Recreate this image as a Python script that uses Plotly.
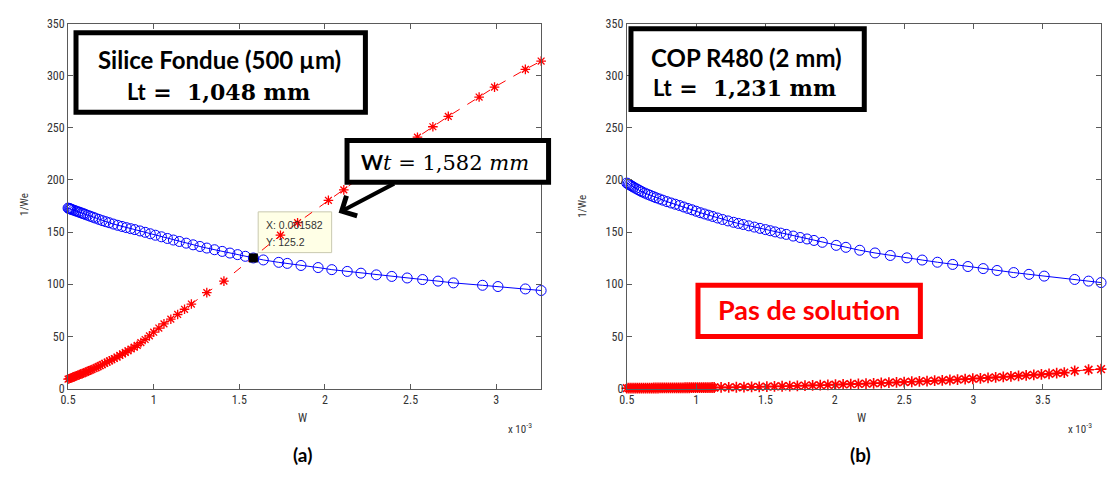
import plotly.graph_objects as go

FIG_W, FIG_H = 1108, 480

# ---------------- data (W in units of 1e-3) ----------------
a_blue_w = [0.500, 0.505, 0.510, 0.515, 0.520, 0.530, 0.540, 0.550, 0.560, 0.570,
            0.580, 0.590, 0.600, 0.615, 0.630, 0.645, 0.660, 0.680, 0.700, 0.720,
            0.740, 0.765, 0.790, 0.815, 0.840, 0.865, 0.890, 0.920, 0.950, 0.980,
            1.010, 1.045, 1.080, 1.115, 1.150, 1.190, 1.230, 1.270, 1.310, 1.355,
            1.400, 1.445, 1.490, 1.535, 1.582, 1.640, 1.730, 1.780, 1.860, 1.960,
            2.040, 2.130, 2.210, 2.300, 2.390, 2.480, 2.570, 2.660, 2.750, 2.920,
            3.010, 3.170, 3.262]
a_blue_inv_we = [173.0, 172.7, 172.4, 172.1, 171.8, 171.2, 170.6, 170.0, 169.4, 168.8,
                 168.2, 167.6, 167.0, 166.1, 165.2, 164.3, 163.4, 162.2, 161.0, 160.0,
                 159.0, 157.7, 156.5, 155.4, 154.3, 153.3, 152.4, 151.1, 149.8, 148.4,
                 147.0, 145.5, 143.9, 142.4, 141.0, 139.4, 137.8, 136.2, 134.7, 133.1,
                 131.5, 129.9, 128.4, 126.8, 125.2, 123.3, 121.0, 120.0, 118.0, 116.0,
                 114.0, 112.3, 110.6, 109.0, 107.5, 106.0, 104.5, 103.0, 101.3, 99.0,
                 97.8, 95.5, 94.0]

a_red_w = [0.500, 0.507, 0.514, 0.521, 0.528, 0.535, 0.542, 0.550, 0.558, 0.566,
           0.574, 0.582, 0.590, 0.600, 0.610, 0.620, 0.630, 0.640, 0.652, 0.664,
           0.676, 0.688, 0.700, 0.714, 0.728, 0.742, 0.756, 0.770, 0.786, 0.802,
           0.818, 0.834, 0.850, 0.868, 0.886, 0.904, 0.925, 0.950, 0.975, 1.000,
           1.030, 1.060, 1.100, 1.140, 1.180, 1.220, 1.310, 1.410, 1.740, 1.840,
           2.020, 2.110, 2.200, 2.310, 2.420, 2.540, 2.630, 2.720, 2.900, 2.990,
           3.170, 3.262]
a_red_inv_we = [9.0, 9.4, 9.9, 10.3, 10.8, 11.3, 11.8, 12.3, 12.8, 13.3,
                13.8, 14.3, 14.9, 15.5, 16.2, 16.9, 17.6, 18.3, 19.2, 20.1,
                21.0, 22.0, 23.0, 24.1, 25.3, 26.5, 27.6, 28.8, 30.2, 31.7,
                33.2, 34.7, 36.2, 37.9, 39.6, 41.4, 44.0, 47.0, 50.5, 54.0,
                58.0, 62.0, 66.5, 71.0, 76.0, 81.0, 92.0, 103.0, 147.0, 159.0,
                180.5, 190.5, 201.5, 214.5, 227.5, 241.0, 251.0, 261.0, 279.5, 289.0,
                306.0, 314.0]

b_blue_w = [0.500, 0.510, 0.520, 0.530, 0.540, 0.550, 0.565, 0.580, 0.595, 0.610,
            0.630, 0.650, 0.670, 0.690, 0.710, 0.735, 0.760, 0.790, 0.820, 0.850,
            0.880, 0.910, 0.940, 0.970, 1.000, 1.030, 1.060, 1.090, 1.120, 1.155,
            1.190, 1.230, 1.270, 1.305, 1.340, 1.380, 1.420, 1.460, 1.500, 1.535,
            1.570, 1.610, 1.650, 1.700, 1.750, 1.800, 1.850, 1.910, 2.010, 2.080,
            2.180, 2.290, 2.400, 2.520, 2.630, 2.740, 2.850, 2.960, 3.070, 3.170,
            3.290, 3.400, 3.510, 3.730, 3.830, 3.920]
b_blue_inv_we = [197.0, 196.2, 195.4, 194.6, 193.8, 193.0, 191.9, 190.8, 189.7, 188.6,
                 187.4, 186.3, 185.2, 184.1, 183.0, 181.8, 180.6, 179.2, 177.9, 176.7,
                 175.5, 174.1, 172.7, 171.4, 170.0, 168.6, 167.4, 166.2, 165.0, 163.5,
                 162.1, 160.7, 159.4, 158.3, 157.3, 156.0, 154.8, 153.6, 152.4, 151.3,
                 150.2, 149.0, 147.8, 146.2, 144.8, 143.4, 142.0, 140.2, 137.3, 135.4,
                 132.6, 130.0, 127.6, 125.3, 123.2, 121.1, 119.0, 117.0, 115.0, 113.2,
                 111.2, 109.5, 107.8, 104.6, 103.0, 101.6]

b_red_w = [0.500, 0.515, 0.530, 0.545, 0.560, 0.575, 0.590, 0.605, 0.620, 0.635,
           0.650, 0.665, 0.680, 0.695, 0.710, 0.725, 0.740, 0.755, 0.770, 0.785,
           0.800, 0.815, 0.830, 0.845, 0.860, 0.875, 0.890, 0.905, 0.920, 0.935,
           0.950, 0.965, 0.980, 0.995, 1.010, 1.025, 1.040, 1.055, 1.070, 1.085,
           1.100, 1.115, 1.130,
           1.180, 1.235, 1.290, 1.345, 1.400, 1.455, 1.510, 1.565, 1.620, 1.675,
           1.730, 1.785, 1.840, 1.895, 1.950, 2.005, 2.060, 2.115, 2.170, 2.225,
           2.280, 2.335, 2.390, 2.445, 2.500, 2.555, 2.610, 2.665, 2.720, 2.775,
           2.830, 2.885, 2.940, 2.995, 3.050, 3.105, 3.160, 3.215, 3.270, 3.325,
           3.380, 3.435, 3.490, 3.545, 3.600, 3.655, 3.730, 3.830, 3.920]
b_red_inv_we = [0.30, 0.31, 0.33, 0.34, 0.36, 0.37, 0.39, 0.40, 0.42, 0.43,
                0.45, 0.46, 0.48, 0.49, 0.51, 0.52, 0.54, 0.55, 0.57, 0.58,
                0.60, 0.62, 0.63, 0.65, 0.67, 0.68, 0.70, 0.72, 0.73, 0.75,
                0.77, 0.79, 0.81, 0.82, 0.84, 0.86, 0.88, 0.90, 0.92, 0.94,
                0.96, 0.98, 1.00,
                1.05, 1.15, 1.25, 1.40, 1.50, 1.65, 1.80, 2.00, 2.20, 2.40,
                2.60, 2.80, 3.00, 3.20, 3.45, 3.70, 3.95, 4.20, 4.45, 4.70,
                5.00, 5.30, 5.60, 5.90, 6.20, 6.50, 6.80, 7.10, 7.50, 7.80,
                8.20, 8.60, 9.00, 9.40, 9.80, 10.20, 10.70, 11.10, 11.60, 12.10,
                12.60, 13.10, 13.60, 14.10, 14.70, 15.30, 17.00, 18.00, 18.60]

tip_w = 1.582      # data tip (x 1e-3)
tip_val = 125.2

x_ticks_a = [0.5, 1, 1.5, 2, 2.5, 3]
x_ticks_b = [0.5, 1, 1.5, 2, 2.5, 3, 3.5]
y_ticks = [0, 50, 100, 150, 200, 250, 300, 350]

assert len(a_blue_w) == len(a_blue_inv_we)
assert len(a_red_w) == len(a_red_inv_we)
assert len(b_blue_w) == len(b_blue_inv_we)
assert len(b_red_w) == len(b_red_inv_we)

# ---------------- helpers ----------------
def px(x):
    return x / FIG_W

def py(y):
    return 1 - y / FIG_H

BLUE = "#0000FF"
RED = "#FF0000"
AX = "#5a5a5a"
NARROW = "Liberation Sans Narrow, Roboto Condensed, Liberation Sans, Arial"
TICKFONT = dict(family=NARROW, size=12, color="#333333")

fig = go.Figure()

def add_series(xs, ys, xa, ya, kind, msize=8, mwidth=1.3):
    if kind == "blue":
        fig.add_trace(go.Scatter(
            x=xs, y=ys, xaxis=xa, yaxis=ya, mode="lines+markers", cliponaxis=False,
            line=dict(color=BLUE, width=1),
            marker=dict(symbol="circle-open", size=10, color=BLUE, line=dict(color=BLUE, width=1)),
            hoverinfo="x+y"))
    else:
        fig.add_trace(go.Scatter(
            x=xs, y=ys, xaxis=xa, yaxis=ya, mode="lines+markers", cliponaxis=False,
            line=dict(color=RED, width=1, dash="dash"),
            marker=dict(symbol="asterisk-open", size=msize, color=RED,
                        line=dict(color=RED, width=mwidth)),
            hoverinfo="x+y"))

add_series(a_blue_w, a_blue_inv_we, "x", "y", "blue")
add_series(a_red_w, a_red_inv_we, "x", "y", "red")
add_series(b_blue_w, b_blue_inv_we, "x2", "y2", "blue")
add_series(b_red_w, b_red_inv_we, "x2", "y2", "red", msize=9, mwidth=1.6)

fig.add_trace(go.Scatter(x=[tip_w], y=[tip_val], xaxis="x", yaxis="y", mode="markers",
                         cliponaxis=False,
                         marker=dict(symbol="square", size=9, color="black")))

y_dom = [1 - 393 / FIG_H, 1 - 17 / FIG_H]

def xaxis_cfg(dom, rng, ticks, anchor):
    return dict(domain=dom, range=rng, anchor=anchor, tickvals=ticks,
                ticktext=[f"{t:g}" for t in ticks],
                showline=True, linecolor=AX, linewidth=1, mirror="ticks",
                ticks="inside", ticklen=5, tickcolor=AX, tickwidth=1,
                showgrid=False, zeroline=False, tickfont=TICKFONT, fixedrange=True)

def yaxis_cfg(anchor):
    return dict(domain=y_dom, range=[0, 350], anchor=anchor, tickvals=y_ticks,
                showline=True, linecolor=AX, linewidth=1, mirror="ticks",
                ticks="inside", ticklen=5, tickcolor=AX, tickwidth=1,
                showgrid=False, zeroline=False, tickfont=TICKFONT, fixedrange=True)

shapes = []

def rect(x0, y0, x1, y1, color, width, fill="white", layer="above"):
    shapes.append(dict(type="rect", xref="paper", yref="paper",
                       x0=px(x0), x1=px(x1), y0=py(y1), y1=py(y0),
                       line=dict(color=color, width=width), fillcolor=fill, layer=layer))

# data-tip box (below traces, like the MATLAB tip)
rect(252, 211, 326, 253, "#c9c9b0", 1, fill="#FFFFE6", layer="below")
# text boxes
rect(68.5, 26.5, 360, 108.5, "black", 5)
rect(341.5, 137.5, 544.5, 180.5, "black", 5)
rect(627.5, 22.5, 862.5, 105.5, "black", 5)
rect(695, 286.5, 919, 339.5, RED, 5)

annotations = []

def text(x, y, s, size, family, color="black", xanchor="center", angle=0):
    annotations.append(dict(xref="paper", yref="paper", x=px(x), y=py(y), text=s,
                            showarrow=False, xanchor=xanchor, yanchor="middle",
                            textangle=angle,
                            font=dict(size=size, family=family, color=color)))

SANS_B = "Lato, Open Sans, sans-serif"
SERIF = "DejaVu Serif, Liberation Serif, serif"
SANS_TXT = "Liberation Sans, Arial, sans-serif"

text(213, 54, "<b>Silice Fondue (500 µm)</b>", 24, SANS_B)
text(212, 87, "<b><span style='font-family:Lato'>Lt</span> =  1,048 mm</b>", 22, SERIF)
text(440, 160, "<span style='font-family:Lato;font-weight:bold'>W</span><i>t</i> = 1,582 <i>mm</i>", 21, SERIF)
text(744, 52, "<b>COP R480 (2 mm)</b>", 24, SANS_B)
text(742, 83, "<b><span style='font-family:Lato'>Lt</span> =  1,231 mm</b>", 22, SERIF)
text(807, 312, "<b>Pas de solution</b>", 27, SANS_B, color=RED)

# data tip text
text(258, 225, f"X: {tip_w * 1e-3:.6f}", 10.5, SANS_TXT, color="#333333", xanchor="left")
text(258, 242, f"Y: {tip_val}", 10.5, SANS_TXT, color="#333333", xanchor="left")

# arrow from Wt box to data tip
annotations.append(dict(xref="paper", yref="paper", x=px(333), y=py(212), ax=57, ay=-30,
                        text="", showarrow=True, arrowhead=4, arrowsize=1.1,
                        arrowwidth=4, arrowcolor="black"))

# axis labels
text(16, 203, "1/We", 11, NARROW, color="#333333", angle=-90)
text(578, 205, "1/We", 11, NARROW, color="#333333", angle=-90)
text(297, 423, "W", 12, NARROW, color="#333333")
text(860, 423, "W", 12, NARROW, color="#333333")
text(516, 434, "x 10<sup>-3</sup>", 11, NARROW, color="#333333")
text(1080, 434, "x 10<sup>-3</sup>", 11, NARROW, color="#333333")

# panel captions
text(297, 461, "<b>(a)</b>", 19, SANS_B)
text(859, 461, "<b>(b)</b>", 19, SANS_B)

fig.update_layout(
    width=FIG_W, height=FIG_H,
    margin=dict(l=0, r=0, t=0, b=0),
    paper_bgcolor="white", plot_bgcolor="white",
    showlegend=False,
    xaxis=xaxis_cfg([px(60.5), px(537)], [0.5, 3.262], x_ticks_a, "y"),
    yaxis=yaxis_cfg("x"),
    xaxis2=xaxis_cfg([px(623.3), px(1101)], [0.5, 3.92], x_ticks_b, "y2"),
    yaxis2=yaxis_cfg("x2"),
    shapes=shapes,
    annotations=annotations,
)

fig.write_html("out.html", config={"displayModeBar": False},
               post_script="document.body.style.margin='0';document.body.style.overflow='hidden';")
